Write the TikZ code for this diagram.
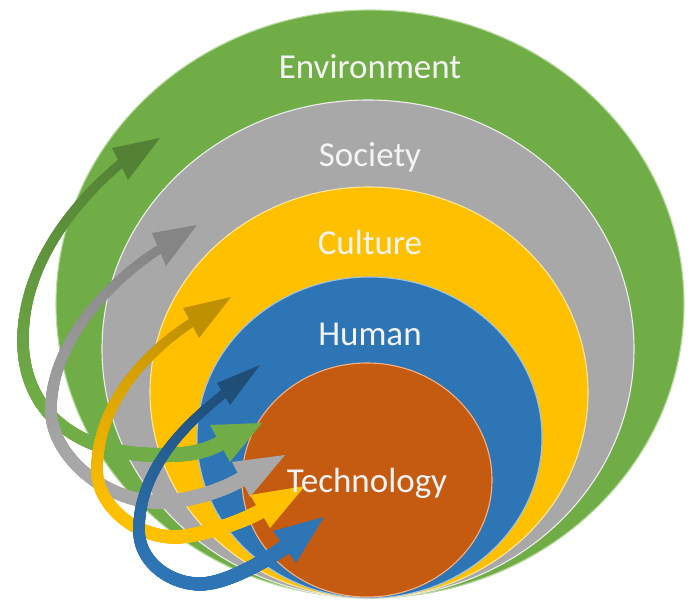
\documentclass[tikz,border=0pt]{standalone}
\usepackage{fontspec}
\setmainfont{Carlito}
\usetikzlibrary{decorations.markings}
\definecolor{envgreen}{HTML}{70AD47}
\definecolor{envgreendk}{HTML}{548235}
\definecolor{envgreenlt}{HTML}{B5DA9C}
\definecolor{socgray}{HTML}{A8A8A8}
\definecolor{socgraydk}{HTML}{858585}
\definecolor{socgraylt}{HTML}{EDEDED}
\definecolor{culyel}{HTML}{FFC000}
\definecolor{culyeldk}{HTML}{BF9000}
\definecolor{culyellt}{HTML}{FFE699}
\definecolor{humblue}{HTML}{2E75B6}
\definecolor{humbluedk}{HTML}{1F4E79}
\definecolor{humbluelt}{HTML}{9DC3E6}
\definecolor{techor}{HTML}{C55A11}
\definecolor{techorlt}{HTML}{F4B183}
\definecolor{labelwhite}{HTML}{F4F4F4}
% #1 path, #2 dark colour (start), #3 base colour (end), #4 start radius, #5 end radius
\newcommand{\ribbonband}[5]{%
  \path[decorate, decoration={markings,
    mark=between positions 0 and 1 step 0.8pt with {%
      \pgfmathsetmacro{\rbt}{\pgfkeysvalueof{/pgf/decoration/mark info/distance from start}/\pgfdecoratedpathlength}%
      \pgfmathsetmacro{\rbr}{#4+(#5-#4)*\rbt}%
      \pgfmathtruncatemacro{\rbp}{min(100,170*\rbt)}%
      \colorlet{rbcol}{#3!\rbp!#2}%
      \fill[rbcol] (0,0) circle (\rbr pt);%
    }}] #1;%
}
\begin{document}
\begin{tikzpicture}[x=1pt,y=-1pt,
  layer/.style={line width=1.1pt},
  lbl/.style={text=labelwhite, font=\fontsize{35}{40}\selectfont, anchor=base, inner sep=0pt}]
\useasboundingbox (0,0) rectangle (690,602);
% nested ellipses
\filldraw[layer, fill=envgreen, draw=envgreenlt] (370,304) ellipse [x radius=314pt, y radius=294pt];
\filldraw[layer, fill=socgray, draw=socgraylt] (368,349) ellipse [x radius=266pt, y radius=249pt];
\filldraw[layer, fill=culyel, draw=culyellt] (369,392.5) ellipse [x radius=219pt, y radius=205.5pt];
\filldraw[layer, fill=humblue, draw=humbluelt] (369.5,437.5) ellipse [x radius=172.5pt, y radius=160.5pt];
\filldraw[layer, fill=techor, draw=techorlt] (367,480) ellipse [x radius=125pt, y radius=117pt];
% green arrow
\coordinate (gA) at (120,164);
\coordinate (gB) at (220,443.5);
\ribbonband{(gA) .. controls (74,203) and (23,265) .. (23,340) .. controls (23,410) and (75,455) .. (160,455) .. controls (185,455) and (202,453) .. (gB)}{envgreendk}{envgreen}{4.5}{7.5}
\fill[envgreendk] (112,148) -- (160,138) -- (128,180) -- cycle;
\fill[envgreen] (210,425) -- (262,423) -- (230,462) -- cycle;
% gray arrow
\coordinate (sA) at (159,249.5);
\coordinate (sB) at (241,479.5);
\ribbonband{(sA) .. controls (113,279) and (51,340) .. (51,410) .. controls (51,455) and (105,502) .. (160,502) .. controls (185,502) and (219,492) .. (sB)}{socgraydk}{socgray}{4.5}{7.5}
\fill[socgraydk] (152,233) -- (197,225) -- (166,266) -- cycle;
\fill[socgray] (232,462) -- (285,455) -- (250,497) -- cycle;
% yellow arrow
\coordinate (cA) at (191,323);
\coordinate (cB) at (260,511.5);
\ribbonband{(cA) .. controls (145,353) and (97,405) .. (97,470) .. controls (97,505) and (135,537) .. (175,537) .. controls (195,537) and (238,524) .. (cB)}{culyeldk}{culyel}{4.5}{7.5}
\fill[culyeldk] (183,308) -- (231,297) -- (199,338) -- cycle;
\fill[culyel] (250,495) -- (305,486) -- (270,528) -- cycle;
% blue arrow
\coordinate (hA) at (223.5,394);
\coordinate (hB) at (284.5,547);
\ribbonband{(hA) .. controls (184.5,425) and (139,470) .. (139,530) .. controls (139,562) and (170,584) .. (200,584) .. controls (225,584) and (264.5,562) .. (hB)}{humbluedk}{humblue}{4.5}{7.5}
\fill[humbluedk] (217,383) -- (260,365) -- (230,405) -- cycle;
\fill[humblue] (273,531) -- (324,517) -- (296,563) -- cycle;
% labels
\node[lbl] (env) at (370,78) {Environment};
\node[lbl] (soc) at (370,166) {Society};
\node[lbl] (cul) at (370,254) {Culture};
\node[lbl] (hum) at (370,345) {Human};
\node[lbl] (tech) at (367,492) {Technology};
\end{tikzpicture}
\end{document}
